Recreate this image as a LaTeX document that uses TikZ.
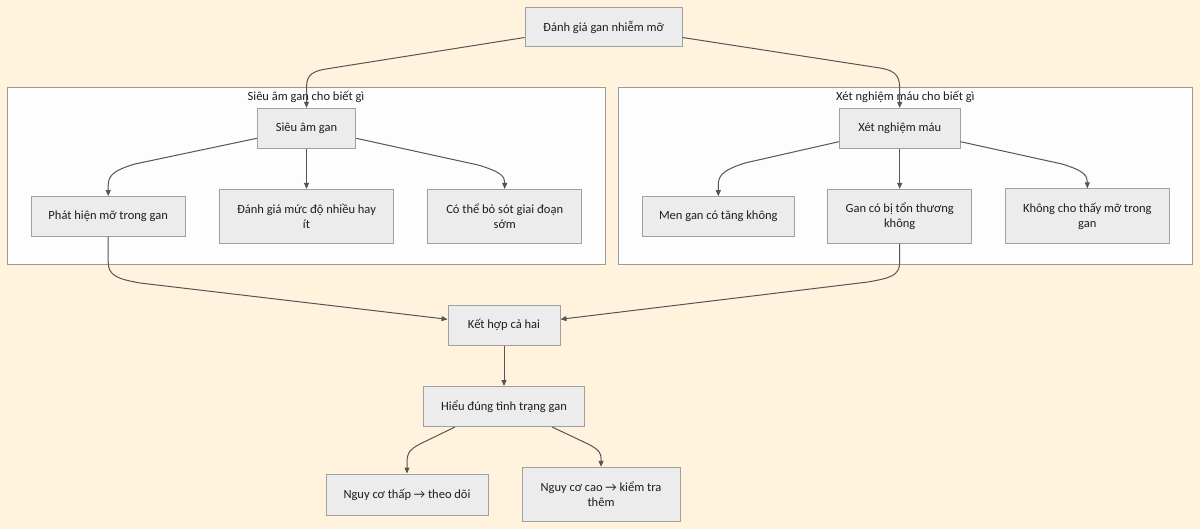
\documentclass[tikz,border=0pt]{standalone}
\usepackage{fontspec}
\setmainfont{Carlito}
\usetikzlibrary{arrows.meta}
\definecolor{nenKem}{HTML}{FFF3DD}
\definecolor{nenCum}{HTML}{FDFDFD}
\definecolor{vienCum}{HTML}{9A9A9A}
\definecolor{nenHop}{HTML}{ECECEC}
\definecolor{vienHop}{HTML}{A0A0A0}
\definecolor{muiTen}{HTML}{555555}
\definecolor{chuDam}{HTML}{1E1E1E}

\begin{document}
\begin{tikzpicture}[x=1pt,y=-1pt,
  hop/.style={draw=vienHop,fill=nenHop,line width=0.9pt,align=center,text=chuDam,inner sep=0pt,font=\fontsize{12.5}{15}\selectfont},
  cum/.style={draw=vienCum,fill=nenCum,line width=0.9pt},
  nhan/.style={text=chuDam,inner sep=0pt,font=\fontsize{12.5}{15}\selectfont},
  noi/.style={draw=muiTen,line width=1pt,-{Triangle[length=6pt,width=5pt]}}]
\fill[nenKem] (0,0) rectangle (1200,529);
\useasboundingbox (0,0) rectangle (1200,529);
% hai khung nhom
\draw[cum] (7,87) rectangle (605,264.3);
\draw[cum] (618.5,87) rectangle (1192.3,264.3);
\node[nhan] (nhanSieuAm) at (306,96.5) {Siêu âm gan cho biết gì};
\node[nhan] (nhanXetNghiem) at (905.4,96.5) {Xét nghiệm máu cho biết gì};
% cac hop
\node[hop,minimum width=157pt,minimum height=39pt] (danhGiaGan) at (603.5,27) {Đánh giá gan nhiễm mỡ};
\node[hop,minimum width=98.5pt,minimum height=40pt] (sieuAm) at (306.5,128.3) {Siêu âm gan};
\node[hop,minimum width=154pt,minimum height=39.5pt] (phatHien) at (108.2,216.3) {Phát hiện mỡ trong gan};
\node[hop,minimum width=174pt,minimum height=54.5pt] (mucDo) at (306.5,216.7) {Đánh giá mức độ nhiều hay\\ít};
\node[hop,minimum width=154pt,minimum height=54.5pt] (boSot) at (504.7,216.7) {Có thể bỏ sót giai đoạn\\sớm};
\node[hop,minimum width=120.7pt,minimum height=40pt] (xetNghiem) at (899.7,128.3) {Xét nghiệm máu};
\node[hop,minimum width=151.3pt,minimum height=40pt] (menGan) at (718.3,216.7) {Men gan có tăng không};
\node[hop,minimum width=144pt,minimum height=54pt] (tonThuong) at (899.7,216.3) {Gan có bị tổn thương\\không};
\node[hop,minimum width=163.3pt,minimum height=55pt] (khongMo) at (1087.3,216.3) {Không cho thấy mỡ trong\\gan};
\node[hop,minimum width=112pt,minimum height=40pt] (ketHop) at (504,325.3) {Kết hợp cả hai};
\node[hop,minimum width=161pt,minimum height=40pt] (hieuDung) at (504,406.5) {Hiểu đúng tình trạng gan};
\node[hop,minimum width=162pt,minimum height=41pt] (nguyCoThap) at (407,494.5) {Nguy cơ thấp → theo dõi};
\node[hop,minimum width=158pt,minimum height=54.5pt] (nguyCoCao) at (601,494.5) {Nguy cơ cao → kiểm tra\\thêm};
% tu goc xuong hai nhom
\draw[noi] ([yshift=-10.5pt]danhGiaGan.west) -- (326,69) .. controls (308,72) and (306.5,78) .. (306.5,90) -- (sieuAm.north);
\draw[noi] ([yshift=-10.5pt]danhGiaGan.east) -- (880,68) .. controls (898,71) and (899.7,78) .. (899.7,90) -- (xetNghiem.north);
% nhanh sieu am
\draw[noi] ([yshift=-10pt]sieuAm.west) -- (135,164) .. controls (111,171) and (108.2,177) .. (108.2,186) -- (phatHien.north);
\draw[noi] (sieuAm.south) -- (mucDo.north);
\draw[noi] ([yshift=-10pt]sieuAm.east) -- (478,165) .. controls (502,172) and (504.7,177) .. (504.7,183) -- (boSot.north);
% nhanh xet nghiem
\draw[noi] ([yshift=-13.4pt]xetNghiem.west) -- (745,163) .. controls (720,171) and (718.3,177) .. (718.3,186) -- (menGan.north);
\draw[noi] (xetNghiem.south) -- (tonThuong.north);
\draw[noi] ([yshift=-13.4pt]xetNghiem.east) -- (1062,164) .. controls (1085,171) and (1087.3,176) .. (1087.3,182) -- (khongMo.north);
% gop lai
\draw[noi] (phatHien.south) -- (108.2,262) .. controls (108.2,276) and (118,279) .. (140,283) -- ([yshift=6pt]ketHop.west);
\draw[noi] (tonThuong.south) -- (899.7,262) .. controls (899.7,276) and (890,278) .. (868,282) -- ([yshift=6pt]ketHop.east);
\draw[noi] (ketHop.south) -- (hieuDung.north);
\draw[noi] ([xshift=-49pt]hieuDung.south) -- (420,444) .. controls (408,450) and (407,455) .. (407,462) -- (nguyCoThap.north);
\draw[noi] ([xshift=48pt]hieuDung.south) -- (588,444) .. controls (600,450) and (601,454) .. (601,458) -- (nguyCoCao.north);
\end{tikzpicture}
\end{document}
